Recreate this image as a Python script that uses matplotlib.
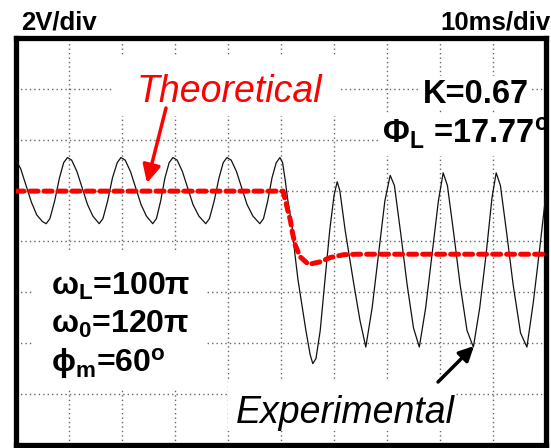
import matplotlib
matplotlib.use("Agg")
import matplotlib.pyplot as plt
from matplotlib.patches import Rectangle

plt.rcParams['font.family'] = ['Liberation Sans', 'DejaVu Sans']
plt.rcParams['mathtext.fontset'] = 'custom'
plt.rcParams['mathtext.rm'] = 'Liberation Sans:bold'
plt.rcParams['mathtext.it'] = 'Liberation Sans:bold'
plt.rcParams['mathtext.bf'] = 'Liberation Sans:bold'
plt.rcParams['mathtext.sf'] = 'Liberation Sans:bold'
plt.rcParams['mathtext.default'] = 'bf'

# Experimental trace (time in ms, voltage in V)
t_exp = [0.0, 0.9, 1.9, 2.9, 3.9, 5.0,
         5.7, 6.4, 7.3, 8.2, 9.0, 9.7, 10.5, 11.5, 12.5, 13.5, 14.5,
         15.7, 16.4, 17.3, 18.2, 19.1, 19.8, 20.6, 21.6, 22.6, 23.6, 24.6,
         25.8, 26.5, 27.3, 28.1, 28.9, 29.6, 30.4, 31.4, 32.4, 33.4, 34.5,
         35.8, 36.5, 37.4, 38.3, 39.1, 39.8, 40.6, 41.6, 42.6, 43.6, 44.7,
         46.0, 46.7, 47.5, 48.3, 49.1, 49.8, 50.3,
         50.8, 51.3, 52.1, 52.6, 53.2, 53.8, 54.7, 55.5, 56.0, 56.6,
         57.4, 58.3, 59.2, 60.0, 60.6, 61.1, 62.1, 63.6, 64.9, 66.0,
         67.2, 68.4, 69.6, 70.6, 71.4, 72.6, 73.8, 75.0, 76.1,
         77.3, 78.5, 79.7, 80.6, 81.4, 82.6, 83.8, 85.1, 86.3,
         87.5, 88.7, 89.8, 90.6, 91.4, 92.6, 93.8, 95.2, 96.4,
         97.6, 98.8, 100.0]
v_exp = [3.2, 2.85, 2.2, 1.55, 1.05, 0.78,
         0.7, 0.9, 1.6, 2.5, 3.1, 3.3, 3.2, 2.75, 2.1, 1.45, 1.0,
         0.7, 0.9, 1.6, 2.5, 3.1, 3.3, 3.2, 2.75, 2.1, 1.45, 1.0,
         0.7, 0.9, 1.6, 2.5, 3.1, 3.3, 3.2, 2.75, 2.1, 1.45, 1.0,
         0.7, 0.9, 1.6, 2.5, 3.1, 3.3, 3.2, 2.75, 2.1, 1.45, 1.0,
         0.7, 0.9, 1.6, 2.5, 3.1, 3.3, 3.1,
         2.4, 1.6, 0.6, -0.45, -1.5, -2.3, -3.5, -4.45, -4.8, -4.6,
         -3.5, -1.5, 0.45, 1.8, 2.35, 2.0, 0.45, -1.5, -3.1, -4.15,
         -2.6, -0.5, 1.6, 2.6, 2.2, 0.3, -1.7, -3.4, -4.15,
         -2.6, -0.5, 1.6, 2.7, 2.2, 0.3, -1.7, -3.5, -4.15,
         -2.6, -0.5, 1.7, 2.7, 2.2, 0.3, -1.7, -3.6, -4.15,
         -2.4, -0.3, 1.9]

# Theoretical trace
t_theo = [0.0, 50.4, 51.2, 51.8, 52.2, 52.7, 53.6, 55.2, 57.4, 59.3, 61.8, 64.4, 100.0]
v_theo = [1.98, 1.98, 1.3, 0.8, 0.3, -0.15, -0.6, -0.9, -0.8, -0.63, -0.52, -0.5, -0.5]

W, H = 551, 448
fig = plt.figure(figsize=(W / 100, H / 100), dpi=100)
ax = fig.add_axes([16 / W, 1 - 445 / H, 530 / W, 407 / H])


def fp(x, y):
    # pixel position -> figure fraction
    return (x / W, 1 - y / H)


ax.set_xlim(0, 100)
ax.set_ylim(-8, 8)
ax.set_xticks([])
ax.set_yticks([])
for s in ax.spines.values():
    s.set_linewidth(3.8)
    s.set_color('black')

# scope graticule
for gx in range(10, 100, 10):
    ax.axvline(gx, color='#666666', lw=1.0, ls=(0, (1, 2.2)), zorder=1)
for gy in range(-6, 8, 2):
    ax.axhline(gy, color='#666666', lw=1.0, ls=(0, (1, 2.2)), zorder=1)

# white patches behind the labels
for (x0, y0, x1, y1) in [(113, 55, 341, 116), (33, 252, 207, 390),
                         (228, 381, 455, 431), (419, 76, 531, 110), (378, 114, 546, 156)]:
    ax.add_patch(Rectangle(fp(x0, y1), (x1 - x0) / W, (y1 - y0) / H,
                           transform=fig.transFigure, facecolor='white',
                           edgecolor='none', zorder=2))

ax.plot(t_exp, v_exp, color='#111111', lw=0.9, zorder=3)
ax.plot(t_theo, v_theo, color='#ff0000', lw=3.6, ls=(0, (1.6, 1.2)),
        dash_capstyle='round', solid_capstyle='round', zorder=4)

# header
fig.text(*fp(21, 30), '2V/div', fontsize=18.5, fontweight='bold', va='baseline')
fig.text(*fp(551, 30), '10ms/div', fontsize=18.5, fontweight='bold', va='baseline', ha='right')

# labels
fig.text(*fp(137, 102), 'Theoretical', fontsize=27, style='italic', color='#ff0000', va='baseline')
fig.text(*fp(236, 423), 'Experimental', fontsize=27, style='italic', color='black', va='baseline')
fig.text(*fp(423, 103), 'K=0.67', fontsize=23.5, fontweight='bold', va='baseline')
fig.text(*fp(382, 143), r'$\Phi_L$ =17.77$^o$', fontsize=23.5, fontweight='bold', va='baseline')

fig.text(*fp(51, 295), r'$\omega_L$=100$\pi$', fontsize=23, fontweight='bold', va='baseline')
fig.text(*fp(51, 333), r'$\omega_0$=120$\pi$', fontsize=23, fontweight='bold', va='baseline')
fig.text(*fp(51, 372), r'$\phi_m$=60$^o$', fontsize=23, fontweight='bold', va='baseline')

# arrows
ax.annotate('', xy=fp(147, 183), xytext=fp(166, 108), xycoords='figure fraction',
            textcoords='figure fraction',
            arrowprops=dict(arrowstyle='-|>', color='#ff0000', lw=2.5, mutation_scale=27,
                            shrinkA=0, shrinkB=0), zorder=5)
ax.annotate('', xy=fp(474, 346), xytext=fp(438, 382), xycoords='figure fraction',
            textcoords='figure fraction',
            arrowprops=dict(arrowstyle='-|>', color='black', lw=2.5, mutation_scale=22,
                            shrinkA=0, shrinkB=0), zorder=5)

fig.savefig('out.png', dpi=100)
